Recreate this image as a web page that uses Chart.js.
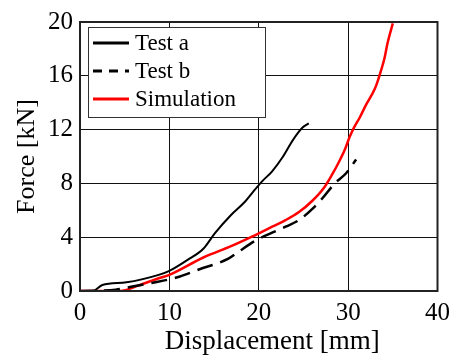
<!doctype html>
<html lang="en">
<head>
    <meta charset="UTF-8"/>
    <script src="https://cdn.jsdelivr.net/npm/chart.js@4/dist/chart.umd.min.js"></script>
    <title>Force vs Displacement</title>
    <style>
        html, body { margin: 0; padding: 0; background: #fff; }
        #wrap { width: 457px; height: 358px; }
    </style>
</head>
<body>
<div id="wrap"><canvas id="forceChart" width="457" height="358"></canvas></div>

<script>
    // values (displacement in mm, force in kN)
    const testADisp  = [0, 1.4, 2.5, 5.2, 8.8, 10, 12, 13.8, 15.1, 16.9, 18.4, 19.3, 20.4, 21.5, 22.7, 23.8, 24.9, 25.6];
    const testAForce = [0, 0, 0.45, 0.65, 1.2, 1.5, 2.3, 3.14, 4.3, 5.65, 6.6, 7.32, 8.17, 8.9, 9.98, 11.2, 12.15, 12.46];

    const testBDisp  = [0, 4, 6, 8, 10.8, 13.3, 16.6, 17.7, 19.5, 20.8, 23, 24.5, 26, 27.1, 28.5, 29.8, 30.9];
    const testBForce = [0, 0.1, 0.35, 0.6, 1.0, 1.6, 2.4, 2.9, 3.7, 4.13, 4.78, 5.27, 6.11, 6.88, 8.0, 8.77, 9.78];

    const simDisp  = [0, 4.5, 6.5, 8.8, 10, 13.8, 16.9, 19.3, 21.5, 23.0, 24.5, 26.0, 27.3, 28.2, 28.9, 29.6, 30.2, 30.7, 31.3, 32.0, 33.0, 33.5, 34.1, 34.4, 35.0];
    const simForce = [0, 0, 0.4, 0.95, 1.2, 2.49, 3.33, 4.06, 4.78, 5.27, 5.87, 6.71, 7.68, 8.65, 9.5, 10.46, 11.5, 12.2, 12.9, 13.84, 15.05, 16.0, 17.4, 18.4, 19.9];

    const xTicks = [0, 10, 20, 30, 40];
    const yTicks = [0, 4, 8, 12, 16, 20];

    const seriesNames = ['Test a', 'Test b', 'Simulation'];

    const toPoints = (xs, ys) => xs.map((x, i) => ({x: x, y: ys[i]}));

    const serif = '"Liberation Serif", "DejaVu Serif", serif';

    // boxed legend inside the plot + frame round the plot area
    const frameAndLegend = {
        id: 'frameAndLegend',
        afterDatasetsDraw(chart) {
            const ctx = chart.ctx;
            const a = chart.chartArea;
            ctx.save();
            ctx.strokeStyle = '#222';
            ctx.lineWidth = 2;
            ctx.strokeRect(a.left, a.top, a.right - a.left, a.bottom - a.top);

            // legend box
            const bx = 88, by = 27, bw = 177, bh = 90;
            ctx.fillStyle = '#fff';
            ctx.fillRect(bx, by, bw, bh);
            ctx.strokeStyle = '#333';
            ctx.lineWidth = 1;
            ctx.strokeRect(bx + 0.5, by + 0.5, bw, bh);

            ctx.font = '23px ' + serif;
            ctx.textBaseline = 'middle';
            chart.data.datasets.forEach((ds, i) => {
                const y = by + 16 + i * 28;
                ctx.beginPath();
                ctx.strokeStyle = ds.borderColor;
                ctx.lineWidth = 3;
                ctx.setLineDash(ds.borderDash && ds.borderDash.length ? [9, 7] : []);
                ctx.moveTo(93, y);
                ctx.lineTo(129, y);
                ctx.stroke();
                ctx.setLineDash([]);
                ctx.fillStyle = '#000';
                ctx.fillText(ds.label, 135, y + 1);
            });
            ctx.restore();
        }
    };

    const lineStyle = {showLine: true, pointRadius: 0, cubicInterpolationMode: 'monotone'};

    new Chart(document.getElementById('forceChart'), {
        type: 'scatter',
        data: {
            datasets: [
                Object.assign({
                    label: seriesNames[0],
                    data: toPoints(testADisp, testAForce),
                    borderColor: '#000',
                    borderWidth: 2
                }, lineStyle),
                Object.assign({
                    label: seriesNames[1],
                    data: toPoints(testBDisp, testBForce),
                    borderColor: '#000',
                    borderWidth: 2.5,
                    borderDash: [16, 8]
                }, lineStyle),
                Object.assign({
                    label: seriesNames[2],
                    data: toPoints(simDisp, simForce),
                    borderColor: '#ff0000',
                    borderWidth: 2.5
                }, lineStyle)
            ]
        },
        plugins: [frameAndLegend],
        options: {
            responsive: false,
            animation: false,
            layout: {padding: {top: 15, right: 15, left: 0, bottom: 0}},
            plugins: {
                legend: {display: false},
                tooltip: {enabled: false}
            },
            scales: {
                x: {
                    type: 'linear',
                    min: xTicks[0],
                    max: xTicks[xTicks.length - 1],
                    afterBuildTicks: (scale) => { scale.ticks = xTicks.map(v => ({value: v})); },
                    afterFit: (scale) => { scale.height = 67; },
                    grid: {color: '#111', lineWidth: 1, drawTicks: false},
                    border: {color: '#000', width: 2},
                    ticks: {color: '#000', padding: 7, font: {family: serif, size: 25}},
                    title: {
                        display: true,
                        text: '    Displacement [mm]',
                        color: '#000',
                        padding: {top: 2, bottom: 0},
                        font: {family: serif, size: 27}
                    }
                },
                y: {
                    min: yTicks[0],
                    max: yTicks[yTicks.length - 1],
                    afterBuildTicks: (scale) => { scale.ticks = yTicks.map(v => ({value: v})); },
                    afterFit: (scale) => { scale.width = 80; },
                    grid: {color: '#111', lineWidth: 1, drawTicks: false},
                    border: {color: '#000', width: 2},
                    ticks: {color: '#000', padding: 7, font: {family: serif, size: 25}},
                    title: {
                        display: true,
                        text: 'Force [kN]',
                        color: '#000',
                        padding: {top: 12, bottom: 0},
                        font: {family: serif, size: 26}
                    }
                }
            }
        }
    });
</script>
</body>
</html>
